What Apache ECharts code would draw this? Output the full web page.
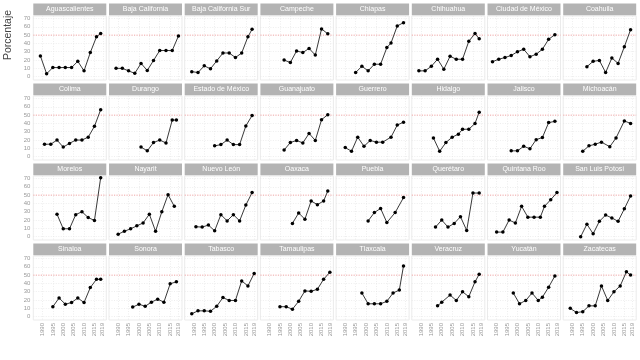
<!DOCTYPE html>
<html><head><meta charset="utf-8">
<script src="https://cdn.jsdelivr.net/npm/echarts@6/dist/echarts.min.js"></script>
<style>html,body{margin:0;padding:0;background:#fff}#c{width:640px;height:360px}</style>
</head><body><div id="c"></div><script>
// ---- data ----
const stateNames = ["Aguascalientes","Baja California","Baja California Sur","Campeche","Chiapas","Chihuahua","Ciudad de México","Coahuila",
"Colima","Durango","Estado de México","Guanajuato","Guerrero","Hidalgo","Jalisco","Michoacán",
"Morelos","Nayarit","Nuevo León","Oaxaca","Puebla","Querétaro","Quintana Roo","San Luis Potosí",
"Sinaloa","Sonora","Tabasco","Tamaulipas","Tlaxcala","Veracruz","Yucatán","Zacatecas"];
const xTickLabels = [1990,1995,2000,2005,2010,2015,2019];
const yTickLabels = [0,10,20,30,40,50,60,70];
const parityLine = 50;

const yrsAguascalientes = [1989,1992,1995,1998,2001,2004,2007,2010,2013,2016,2018];
const pctAguascalientes = [25,3.5,11,11,11,11,18.5,7,29,48,52];
const yrsBajaCalifornia = [1989,1992,1995,1998,2001,2004,2007,2010,2013,2016,2019];
const pctBajaCalifornia = [10,10,7,4,16,7.5,19.5,31.5,31.5,31.5,49];
const yrsBajaCaliforniaSur = [1989,1992,1995,1998,2001,2004,2007,2010,2013,2016,2018];
const pctBajaCaliforniaSur = [6,5,13,9.5,19,28.5,28.5,23,28.5,48,57];
const yrsCampeche = [1997,2000,2003,2006,2009,2012,2015,2018];
const pctCampeche = [20,17,31,29,34,26,57.5,51.5];
const yrsChiapas = [1995,1998,2001,2004,2007,2010,2012,2015,2018];
const pctChiapas = [5,12.5,7,15,15,35,40.5,61,65];
const yrsChihuahua = [1989,1992,1995,1998,2001,2004,2007,2010,2013,2016,2018];
const pctChihuahua = [7,7,12.5,21,9,24.5,21,21,42.5,52,45.5];
const yrsCDMX = [1988,1991,1994,1997,2000,2003,2006,2009,2012,2015,2018];
const pctCDMX = [18,21,23,25.5,30,33,24,27,33,45,50.5];
const yrsCoahuila = [1997,2000,2003,2006,2009,2012,2015,2018];
const pctCoahuila = [12,18.5,19.5,5,22.5,16,36,56.5];
const yrsColima = [1991,1994,1997,2000,2003,2006,2009,2012,2015,2018];
const pctColima = [15,15,20,11.5,16,20,20,23.5,36.5,56.5];
const yrsDurango = [2001,2004,2007,2010,2013,2016,2018];
const pctDurango = [11.5,7,17,20,16.5,44,44];
const yrsEdomex = [2000,2003,2006,2009,2012,2015,2018];
const pctEdomex = [13,14.5,20,14.5,14.5,37,49.5];
const yrsGuanajuato = [1997,2000,2003,2006,2009,2012,2015,2018];
const pctGuanajuato = [8,17,19.5,16.5,28,19.5,44.5,50.5];
const yrsGuerrero = [1990,1993,1996,1999,2002,2005,2008,2012,2015,2018];
const pctGuerrero = [11,6.5,23.5,12.5,19.5,17.5,17.5,23.5,38,41.5];
const yrsHidalgo = [1996,1999,2002,2005,2008,2010,2013,2016,2018];
const pctHidalgo = [22.5,6.5,17,23.5,27,33,33,40,53.5];
const yrsJalisco = [1997,2000,2003,2006,2009,2012,2015,2018];
const pctJalisco = [7,7,12.5,9.5,20.5,23,41,42.5];
const yrsMichoacan = [1995,1998,2001,2004,2008,2011,2015,2018];
const pctMichoacan = [6.5,13,15,17.5,12,22.5,43,40];
const yrsMorelos = [1997,2000,2003,2006,2009,2012,2015,2018];
const pctMorelos = [27,9.5,9.5,26.5,30,23,19.5,71];
const yrsNayarit = [1990,1993,1996,1999,2002,2005,2008,2011,2014,2017];
const pctNayarit = [3,6.5,9.5,13,16.5,27,6.5,30,50.5,36.5];
const yrsNuevoLeon = [1991,1994,1997,2000,2003,2006,2009,2012,2015,2018];
const pctNuevoLeon = [12,11.5,14,7,26.5,19,26.5,19,38,53];
const yrsOaxaca = [2001,2004,2007,2010,2013,2016,2018];
const pctOaxaca = [16,28.5,21,43,38.5,43,55];
const yrsPuebla = [2001,2004,2007,2010,2014,2018];
const pctPuebla = [19,29,34,17,29,47];
const yrsQueretaro = [1997,2000,2003,2006,2009,2012,2015,2018];
const pctQueretaro = [11.5,20,11.5,16,24,7.5,52.5,52.5];
const yrsQuintanaRoo = [1990,1993,1996,1999,2002,2005,2008,2011,2013,2016,2019];
const pctQuintanaRoo = [5.5,5.5,20,16.5,36.5,23.5,23.5,23.5,36.5,44.5,53];
const yrsSLP = [1994,1997,2000,2003,2006,2009,2012,2015,2018];
const pctSLP = [0,15,3.5,18.5,26,22.5,18.5,33.5,49];
const yrsSinaloa = [1995,1998,2001,2004,2007,2010,2013,2016,2018];
const pctSinaloa = [12,22.5,15,17,22.5,17,35,45,45];
const yrsSonora = [1997,2000,2003,2006,2009,2012,2015,2018];
const pctSonora = [11.5,15,12.5,17.5,21,17.5,39.5,42];
const yrsTabasco = [1989,1992,1995,1998,2001,2004,2007,2010,2013,2016,2019];
const pctTabasco = [3.5,7,7,6.5,12.5,23,19.5,19.5,43,37,52];
const yrsTamaulipas = [1995,1998,2001,2004,2007,2010,2013,2016,2019];
const pctTamaulipas = [12,12,9,18.5,31,30.5,33,45,53.5];
const yrsTlaxcala = [1998,2001,2004,2007,2010,2013,2016,2018];
const pctTlaxcala = [28.5,15.5,15.5,15.5,18.5,28.5,32,61];
const yrsVeracruz = [1998,2000,2004,2007,2010,2013,2016,2018];
const pctVeracruz = [13,17.5,26,19.5,30,24,42,51];
const yrsYucatan = [1998,2001,2004,2007,2010,2012,2015,2018];
const pctYucatan = [28.5,15.5,19.5,28.5,19.5,23.5,35.5,49];
const yrsZacatecas = [1989,1992,1995,1998,2001,2004,2007,2010,2013,2016,2018];
const pctZacatecas = [10,5,6,13,13,37,19.5,30,37,54,50];

const panelYears = [yrsAguascalientes,yrsBajaCalifornia,yrsBajaCaliforniaSur,yrsCampeche,yrsChiapas,yrsChihuahua,yrsCDMX,yrsCoahuila,
 yrsColima,yrsDurango,yrsEdomex,yrsGuanajuato,yrsGuerrero,yrsHidalgo,yrsJalisco,yrsMichoacan,
 yrsMorelos,yrsNayarit,yrsNuevoLeon,yrsOaxaca,yrsPuebla,yrsQueretaro,yrsQuintanaRoo,yrsSLP,
 yrsSinaloa,yrsSonora,yrsTabasco,yrsTamaulipas,yrsTlaxcala,yrsVeracruz,yrsYucatan,yrsZacatecas];
const panelPct = [pctAguascalientes,pctBajaCalifornia,pctBajaCaliforniaSur,pctCampeche,pctChiapas,pctChihuahua,pctCDMX,pctCoahuila,
 pctColima,pctDurango,pctEdomex,pctGuanajuato,pctGuerrero,pctHidalgo,pctJalisco,pctMichoacan,
 pctMorelos,pctNayarit,pctNuevoLeon,pctOaxaca,pctPuebla,pctQueretaro,pctQuintanaRoo,pctSLP,
 pctSinaloa,pctSonora,pctTabasco,pctTamaulipas,pctTlaxcala,pctVeracruz,pctYucatan,pctZacatecas];

// ---- layout ----
const COL0 = 33.3, COLW = 75.7, PW = 73, ROW0 = 16, ROWH = 80, PH = 64, STRIP_H = 11.7, STRIP_GAP = 1;
const X_MIN = 1985.6, X_MAX = 2020.7, Y_MIN = -4, Y_MAX = 73;
const FONT = '"Liberation Sans", Arial, sans-serif';
const PARITY_COLOR = '#f6a3a3';
const grid = [], xAxis = [], yAxis = [], series = [], graphic = [];

stateNames.forEach((name, k) => {
  const r = Math.floor(k / 8), c = k % 8;
  const left = COL0 + c * COLW, top = ROW0 + r * ROWH;
  grid.push({left: left, top: top, width: PW, height: PH, show: true, borderColor: '#ebebeb', borderWidth: 1, backgroundColor: '#fff'});
  xAxis.push({
    type: 'value', gridIndex: k, min: X_MIN, max: X_MAX,
    axisLine: {show: false}, axisTick: {show: false, customValues: xTickLabels},
    axisLabel: {show: r === 3, customValues: xTickLabels, formatter: v => String(v), rotate: 90, fontSize: 6, color: '#999', margin: 3, fontFamily: FONT},
    splitLine: {show: true, lineStyle: {color: '#e6e6e6', type: [1, 1.5], width: 0.7}}
  });
  yAxis.push({
    type: 'value', gridIndex: k, min: Y_MIN, max: Y_MAX,
    axisLine: {show: false}, axisTick: {show: false, customValues: yTickLabels},
    axisLabel: {show: c === 0, customValues: yTickLabels, fontSize: 6, color: '#999', margin: 3, fontFamily: FONT},
    splitLine: {show: true, lineStyle: {color: '#e6e6e6', type: [1, 1.5], width: 0.7}}
  });
  // parity reference line (50 %) spanning the panel
  series.push({
    type: 'line', xAxisIndex: k, yAxisIndex: k,
    data: [[X_MIN, parityLine], [X_MAX, parityLine]],
    symbol: 'none', lineStyle: {color: PARITY_COLOR, type: [1.2, 1.3], width: 0.9},
    animation: false, silent: true, z: 2
  });
  series.push({
    type: 'line', xAxisIndex: k, yAxisIndex: k,
    data: panelYears[k].map((y, i) => [y, panelPct[k][i]]),
    symbol: 'circle', symbolSize: 3.5, showSymbol: true,
    itemStyle: {color: '#000'}, lineStyle: {color: '#222', width: 0.9},
    animation: false, silent: true, z: 3
  });
  graphic.push({type: 'rect', left: left, top: top - STRIP_H - STRIP_GAP + 0.3, shape: {width: PW, height: STRIP_H}, style: {fill: '#b3b3b3'}, silent: true});
  graphic.push({type: 'text', x: left + PW / 2, y: top - STRIP_H / 2 - STRIP_GAP + 0.3,
    style: {text: name, fill: '#fff', font: '7px ' + FONT, textAlign: 'center', textVerticalAlign: 'middle'}, silent: true});
});
graphic.push({type: 'text', x: 8, y: 35, rotation: Math.PI / 2,
  style: {text: 'Porcentaje', fill: '#444', font: '10.5px ' + FONT, textAlign: 'center', textVerticalAlign: 'middle'}, silent: true});

const chart = echarts.init(document.getElementById('c'), null, {renderer: 'canvas'});
chart.setOption({animation: false, grid, xAxis, yAxis, series, graphic});
</script></body></html>
